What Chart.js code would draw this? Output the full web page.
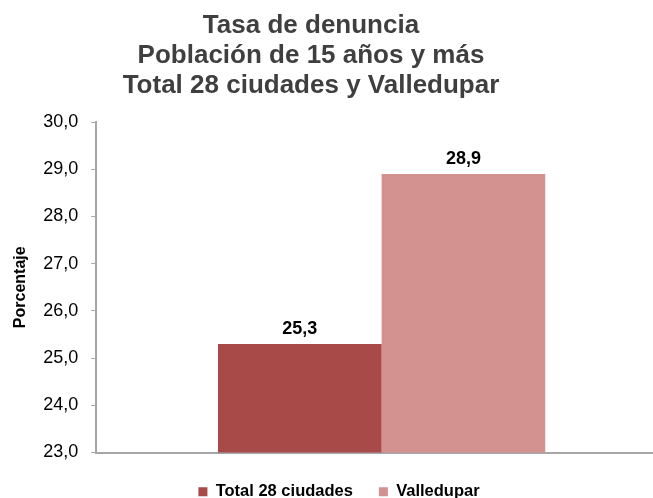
<!DOCTYPE html>
<html lang="es">
<head>
  <meta charset="UTF-8">
  <title>Tasa de denuncia</title>
  <script src="https://cdn.jsdelivr.net/npm/chart.js"></script>
  <style>
    html, body { margin: 0; padding: 0; background: #fff; overflow: hidden; }
    #wrap { width: 667px; height: 510px; }
  </style>
</head>
<body>
  <div id="wrap"><canvas id="chart"></canvas></div>

  <script>
    const titleLines = ['Tasa de denuncia', 'Población de 15 años y más', 'Total 28 ciudades y Valledupar'];
    const categories = [''];
    const seriesNames = ['Total 28 ciudades', 'Valledupar'];
    const totalValues = [25.3];
    const valleduparValues = [28.9];
    const yTicks = [23, 24, 25, 26, 27, 28, 29, 30];

    const FONT = '"Liberation Sans", Arial, sans-serif';
    const fmt = v => v.toFixed(1).replace('.', ',');

    // three-line title, drawn a bit left of the canvas centre like the original
    const topTitle = {
      id: 'topTitle',
      afterDraw(chart) {
        const ctx = chart.ctx;
        ctx.save();
        ctx.font = 'bold 26px ' + FONT;
        ctx.fillStyle = '#3F3F3F';
        ctx.textAlign = 'center';
        ctx.textBaseline = 'alphabetic';
        titleLines.forEach((t, i) => ctx.fillText(t, 311, 33 + i * 30));
        ctx.restore();
      }
    };

    // value labels above each bar
    const barLabels = {
      id: 'barLabels',
      afterDatasetsDraw(chart) {
        const ctx = chart.ctx;
        ctx.save();
        ctx.font = 'bold 18px ' + FONT;
        ctx.fillStyle = '#000';
        ctx.textAlign = 'center';
        ctx.textBaseline = 'alphabetic';
        chart.data.datasets.forEach((ds, i) => {
          chart.getDatasetMeta(i).data.forEach((bar, j) => {
            ctx.fillText(fmt(ds.data[j]), bar.x, bar.y - 10);
          });
        });
        ctx.restore();
      }
    };

    new Chart(document.getElementById('chart'), {
      type: 'bar',
      data: {
        labels: categories,
        datasets: [
          { label: seriesNames[0], data: totalValues, backgroundColor: '#A84A47' },
          { label: seriesNames[1], data: valleduparValues, backgroundColor: '#D39190' }
        ]
      },
      options: {
        responsive: true,
        maintainAspectRatio: false,
        animation: false,
        layout: { padding: { left: 11, right: 0, top: 122, bottom: 0 } },
        datasets: { bar: { categoryPercentage: 0.5734, barPercentage: 1 } },
        plugins: {
          title: { display: false },
          legend: {
            position: 'bottom',
            labels: {
              color: '#000',
              font: { family: FONT, size: 16.5, weight: 'bold' },
              boxWidth: 9,
              boxHeight: 9,
              padding: 26
            }
          },
          tooltip: { enabled: false }
        },
        scales: {
          x: {
            grid: { display: false, tickLength: 5 },
            ticks: { display: false },
            border: { color: '#A6A6A6', width: 2 }
          },
          y: {
            min: 23,
            max: 30,
            afterBuildTicks: axis => { axis.ticks = yTicks.map(v => ({ value: v })); },
            ticks: {
              color: '#000',
              font: { family: FONT, size: 18 },
              padding: 13,
              callback: v => fmt(v)
            },
            grid: { drawOnChartArea: false, drawTicks: true, tickLength: 5, color: '#A6A6A6' },
            border: { color: '#A6A6A6', width: 2 },
            title: {
              display: true,
              text: 'Porcentaje',
              color: '#000',
              font: { family: FONT, size: 16, weight: 'bold' },
              padding: 0
            }
          }
        }
      },
      plugins: [barLabels, topTitle]
    });
  </script>
</body>
</html>
